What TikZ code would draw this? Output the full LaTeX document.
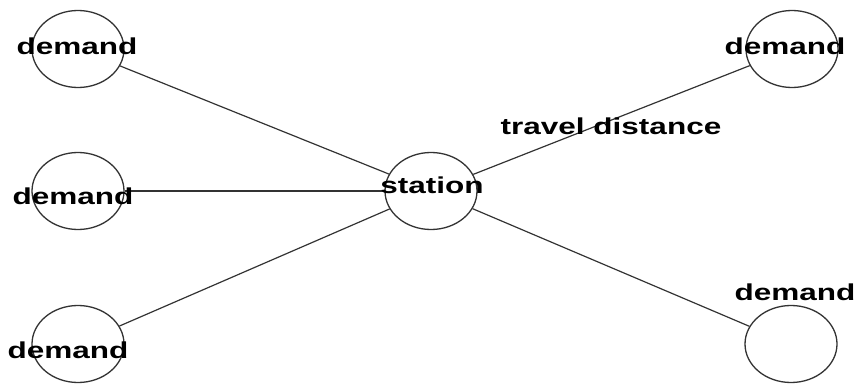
\documentclass[tikz,border=0pt]{standalone}
\usepackage{fontspec}
\setmainfont{Liberation Sans}
\usetikzlibrary{shapes.geometric}
\tikzset{
  circ/.style={ellipse, draw=black!80, line width=1.3pt, minimum width=92pt, minimum height=77pt, inner sep=0pt},
  lbl/.style={font=\fontsize{23}{23}\selectfont\bfseries, inner sep=0pt, text=black, xscale=1.37},
  link/.style={draw=black!80, line width=1.2pt}
}
\begin{document}
\begin{tikzpicture}[x=1pt,y=-1pt]
\useasboundingbox (0,0) rectangle (854,385);
\node[circ] (st) at (431,191) {};
\node[circ] (tl) at (78,49) {};
\node[circ] (ml) at (78,191) {};
\node[circ] (bl) at (78,344) {};
\node[circ] (tr) at (792,49) {};
\node[circ] (br) at (791,344) {};
\draw[link] (tl) -- (st);
\draw[link] (ml) -- (st);
\draw[link] (bl) -- (st);
\draw[link] (tr) -- (st);
\draw[link] (br) -- (st);
\node[lbl] (ltl) at (77,46) {demand};
\node[lbl] (lml) at (73,196) {demand};
\node[lbl] (lbl) at (68,350) {demand};
\node[lbl] (ltr) at (785,46) {demand};
\node[lbl] (lbr) at (795,292) {demand};
\node[lbl] (lst) at (432,185) {station};
\node[lbl] (ltd) at (611,126) {travel distance};
\end{tikzpicture}
\end{document}
